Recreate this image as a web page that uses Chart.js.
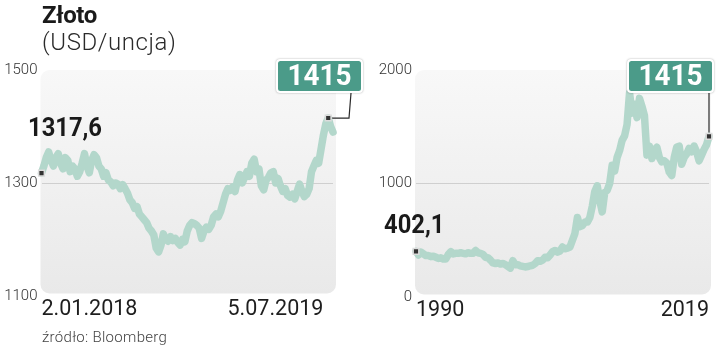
<!DOCTYPE html>
<html><head><meta charset="utf-8">
<script src="https://cdn.jsdelivr.net/npm/chart.js@4.4.1/dist/chart.umd.min.js"></script>
<style>
html,body{margin:0;padding:0;background:#fff;width:721px;height:347px;overflow:hidden;font-family:Roboto,sans-serif;}
#title{position:absolute;left:42px;top:3px;font:700 24px/1 Roboto;color:#1a1a1a;letter-spacing:-0.4px;}
#unit{position:absolute;left:42px;top:30px;font:300 24px/1 Roboto;color:#2a2a2a;letter-spacing:0.6px;}
#src{position:absolute;left:42px;top:330px;font:300 15px/1 Roboto;color:#444;letter-spacing:0.3px;}
.box{position:absolute;top:0;height:347px;}
#leftBox{left:0;width:370px;}
#rightBox{left:370px;width:351px;}
</style></head><body>
<div id="leftBox" class="box"><canvas id="left"></canvas></div>
<div id="rightBox" class="box"><canvas id="right"></canvas></div>
<div id="title">Złoto</div>
<div id="unit">(USD/uncja)</div>
<div id="src">źródło: Bloomberg</div>
<script>
// ---- data ----
const leftTickLabels = ['2.01.2018', '5.07.2019'];
const leftYTicks = [1100, 1300, 1500];
const leftValues = [
  1317.6, 1330, 1345, 1355, 1340, 1330, 1345, 1352, 1335, 1325, 1345, 1340, 1320, 1330, 1325, 1312, 1320, 1335, 1352, 1330,
  1318, 1340, 1350, 1345, 1330, 1325, 1312, 1318, 1305, 1302, 1295, 1300, 1298, 1290, 1297, 1290, 1282, 1270, 1265, 1255,
  1258, 1245, 1240, 1235, 1230, 1220, 1215, 1208, 1185, 1178, 1190, 1210, 1200, 1197, 1205, 1198, 1202, 1195, 1190, 1200,
  1196, 1215, 1225, 1230, 1228, 1225, 1220, 1202, 1215, 1222, 1218, 1225, 1240, 1245, 1240, 1250, 1265, 1280, 1290, 1287,
  1293, 1285, 1305, 1315, 1300, 1310, 1320, 1312, 1335, 1342, 1320, 1325, 1295, 1288, 1305, 1310, 1318, 1320, 1300, 1308,
  1295, 1285, 1290, 1278, 1275, 1280, 1272, 1285, 1298, 1285, 1276, 1280, 1290, 1320, 1330, 1340, 1335, 1360, 1385, 1405,
  1415, 1400, 1390
];
const rightTickLabels = ['1990', '2019'];
const rightYTicks = [0, 1000, 2000];
const rightValues = [
  402.1, 370, 395, 380,   365, 365, 355, 360,   350, 340, 345, 335,   335, 375, 400, 380,
  385, 385, 390, 385,     380, 390, 385, 385,   410, 390, 385, 375,   350, 345, 325, 300,
  295, 300, 290, 295,     285, 270, 255, 320,   285, 285, 275, 270,   265, 268, 275, 280,
  295, 320, 315, 325,     350, 345, 370, 400,   410, 395, 405, 440,   425, 430, 440, 500,
  560, 700, 620, 630,     660, 660, 700, 800,   930, 980, 850, 750,   920, 940, 1000, 1160,
  1110, 1230, 1290, 1380, 1420, 1520, 1800, 1620, 1700, 1580, 1750, 1680, 1600, 1250, 1330, 1220,
  1290, 1320, 1230, 1190, 1200, 1180, 1100, 1070, 1230, 1320, 1330, 1170, 1230, 1260, 1310, 1280,
  1330, 1280, 1200, 1250, 1300, 1340, 1415
];
const startLabels = ['1317,6', '402,1'];
const endLabel = '1415';

// ---- drawing ----
Chart.defaults.font.family = 'Roboto';
const LINE = '#b3d7cb';

const decor = {
  id: 'decor',
  beforeDraw(chart, args, o) {
    const {ctx, chartArea: a} = chart;
    const x0 = a.left - 1, x1 = a.right + o.panelRight, y0 = a.top, y1 = a.bottom - 2.5;
    const g = ctx.createLinearGradient(0, y0, 0, y1);
    g.addColorStop(0, '#f8f8f8'); g.addColorStop(1, '#e9e9e9');
    ctx.save(); ctx.fillStyle = g; ctx.beginPath(); ctx.roundRect(x0, y0, x1 - x0, y1 - y0, 9); ctx.fill(); ctx.restore();
  },
  beforeDatasetsDraw(chart, args, o) {
    const {ctx, chartArea: a} = chart;
    const p = chart.getDatasetMeta(0).data[o.endIndex];
    const bx1 = a.right + o.boxRight, by1 = a.top - 11 + 34;
    ctx.save(); ctx.strokeStyle = '#2a2a2a'; ctx.lineWidth = 1.2; ctx.beginPath();
    if (o.elbow) { ctx.moveTo(p.x, p.y); ctx.lineTo(bx1 - 14, p.y); ctx.lineTo(bx1 - 12, by1); }
    else { ctx.moveTo(p.x, by1); ctx.lineTo(p.x, p.y); }
    ctx.stroke(); ctx.restore();
  },
  afterDatasetsDraw(chart, args, o) {
    const {ctx, chartArea: a} = chart;
    const p0 = chart.getDatasetMeta(0).data[0];
    ctx.save();
    ctx.translate(p0.x + o.sdx, p0.y + o.sdy); ctx.scale(0.95, 1);
    ctx.font = '700 25px Roboto'; ctx.fillStyle = '#1a1a1a'; ctx.textAlign = 'left'; ctx.textBaseline = 'alphabetic';
    ctx.fillText(o.startText, 0, 0);
    ctx.restore();
    const bw = 87, bh = 34;
    const bx1 = a.right + o.boxRight, bx0 = bx1 - bw, by0 = a.top - 11;
    ctx.save();
    ctx.shadowColor = 'rgba(0,0,0,0.35)'; ctx.shadowBlur = 2;
    ctx.fillStyle = '#ffffff'; ctx.beginPath(); ctx.roundRect(bx0, by0, bw, bh, 4); ctx.fill();
    ctx.shadowColor = 'transparent';
    ctx.fillStyle = '#4b9b89'; ctx.beginPath(); ctx.roundRect(bx0 + 2, by0 + 2, bw - 4, bh - 4, 2.5); ctx.fill();
    ctx.translate(bx0 + bw / 2, by0 + bh / 2 + 1); ctx.scale(0.93, 1);
    ctx.font = '700 30px Roboto'; ctx.fillStyle = '#ffffff'; ctx.textAlign = 'center'; ctx.textBaseline = 'middle';
    ctx.fillText(endLabel, 0, 0);
    ctx.restore();
  }
};

function makeChart(id, values, xLabels, yTicks, xTickIndex, cfg) {
  const endIndex = values.lastIndexOf(Number(endLabel));
  const mid = yTicks[1];
  return new Chart(document.getElementById(id), {
    type: 'line',
    data: {
      labels: values.map((_, i) => i),
      datasets: [{
        data: values,
        borderColor: LINE, borderWidth: 7.5, tension: 0,
        borderJoinStyle: 'round', borderCapStyle: 'round',
        pointStyle: 'rect',
        pointRadius: c => (c.dataIndex === 0 || c.dataIndex === endIndex) ? 4 : 0,
        pointBackgroundColor: '#333', pointBorderColor: '#dcdcdc', pointBorderWidth: 1.5
      }]
    },
    options: {
      responsive: true, maintainAspectRatio: false, animation: false, events: [],
      devicePixelRatio: 1,
      layout: { padding: { top: 70, left: 0, right: cfg.padRight, bottom: cfg.padBottom } },
      plugins: {
        legend: { display: false }, tooltip: { enabled: false },
        decor: { endIndex, panelRight: cfg.panelRight, boxRight: cfg.boxRight, elbow: cfg.elbow,
                 sdx: cfg.sdx, sdy: cfg.sdy, startText: cfg.startText }
      },
      scales: {
        x: {
          grid: { display: false, drawTicks: false }, border: { display: false },
          afterFit: s => { s.height = 30; },
          afterBuildTicks: s => { s.ticks = [{ value: 0 }, { value: xTickIndex }]; },
          ticks: { autoSkip: false, maxRotation: 0, align: 'inner', padding: 1, color: '#1e1e1e',
                   font: { size: 21.5, weight: 400 },
                   callback: (v, i) => xLabels[i] }
        },
        y: {
          min: yTicks[0], max: yTicks[2],
          grid: { drawTicks: false, color: c => (c.tick && c.tick.value === mid) ? '#cfcfcf' : 'transparent' },
          border: { display: false },
          afterFit: s => { s.width = cfg.yWidth; },
          afterBuildTicks: s => { s.ticks = yTicks.map(v => ({ value: v })); },
          ticks: { padding: 4, color: '#333', font: { size: 15, weight: 300 }, callback: v => String(v) }
        }
      }
    },
    plugins: [decor]
  });
}

makeChart('left', leftValues, leftTickLabels, leftYTicks, 118,
  { padRight: 37, padBottom: 21, yWidth: 41.5, panelRight: 3, boxRight: 30, elbow: true,
    sdx: -13.5, sdy: -37.5, startText: startLabels[0] });
makeChart('right', rightValues, rightTickLabels, rightYTicks, rightValues.length - 1,
  { padRight: 12, padBottom: 20, yWidth: 46, panelRight: 2, boxRight: 5, elbow: false,
    sdx: -32, sdy: -18, startText: startLabels[1] });
</script>
</body></html>
